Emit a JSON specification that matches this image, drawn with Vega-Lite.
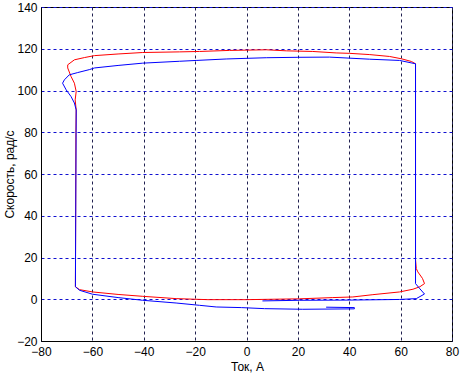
{
  "$schema": "https://vega.github.io/schema/vega-lite/v6.json",
  "width": 411,
  "height": 334,
  "autosize": {"type": "none"},
  "padding": {"left": 41, "top": 7, "right": 8, "bottom": 34},
  "background": "white",
  "config": {
    "view": {"stroke": "black", "strokeWidth": 1},
    "font": "Liberation Sans"
  },
  "data": {
    "values": [
      {"s":"red","i":0,"x":0,"y":-0.2},
      {"s":"red","i":1,"x":10,"y":0},
      {"s":"red","i":2,"x":20.6,"y":0.2},
      {"s":"red","i":3,"x":33.6,"y":0.8},
      {"s":"red","i":4,"x":41.4,"y":1.1},
      {"s":"red","i":5,"x":49.2,"y":2.2},
      {"s":"red","i":6,"x":59.6,"y":3.5},
      {"s":"red","i":7,"x":64.8,"y":4.8},
      {"s":"red","i":8,"x":67.5,"y":6},
      {"s":"red","i":9,"x":69.3,"y":7.5},
      {"s":"red","i":10,"x":68.5,"y":10},
      {"s":"red","i":11,"x":66.7,"y":13.1},
      {"s":"red","i":12,"x":66.1,"y":14.7},
      {"s":"red","i":13,"x":65.8,"y":19},
      {"s":"red","i":14,"x":65.8,"y":112.8},
      {"s":"red","i":15,"x":64.2,"y":113.9},
      {"s":"red","i":16,"x":60.3,"y":115.2},
      {"s":"red","i":17,"x":55.7,"y":116.3},
      {"s":"red","i":18,"x":48,"y":117.2},
      {"s":"red","i":19,"x":40.1,"y":117.8},
      {"s":"red","i":20,"x":34.9,"y":118},
      {"s":"red","i":21,"x":25.8,"y":118.7},
      {"s":"red","i":22,"x":15.5,"y":119},
      {"s":"red","i":23,"x":7.7,"y":119.5},
      {"s":"red","i":24,"x":-6.6,"y":119.2},
      {"s":"red","i":25,"x":-18.3,"y":118.7},
      {"s":"red","i":26,"x":-26,"y":118.5},
      {"s":"red","i":27,"x":-40.4,"y":118.2},
      {"s":"red","i":28,"x":-50,"y":117.5},
      {"s":"red","i":29,"x":-59.2,"y":116.7},
      {"s":"red","i":30,"x":-63,"y":115.8},
      {"s":"red","i":31,"x":-67,"y":114.7},
      {"s":"red","i":32,"x":-69.6,"y":112.3},
      {"s":"red","i":33,"x":-69.6,"y":110.8},
      {"s":"red","i":34,"x":-68.3,"y":106.7},
      {"s":"red","i":35,"x":-67,"y":103.5},
      {"s":"red","i":36,"x":-66.3,"y":99.5},
      {"s":"red","i":37,"x":-66.7,"y":95.5},
      {"s":"red","i":38,"x":-66.3,"y":90.7},
      {"s":"red","i":39,"x":-66.4,"y":80},
      {"s":"red","i":40,"x":-66.6,"y":6},
      {"s":"red","i":41,"x":-65,"y":4.6},
      {"s":"red","i":42,"x":-59.9,"y":3.5},
      {"s":"red","i":43,"x":-50,"y":2.3},
      {"s":"red","i":44,"x":-40.4,"y":1.4},
      {"s":"red","i":45,"x":-27.4,"y":0.3},
      {"s":"red","i":46,"x":-15,"y":-0.2},
      {"s":"red","i":47,"x":0,"y":-0.2},
      {"s":"blue","i":0,"x":6.2,"y":-0.8},
      {"s":"blue","i":1,"x":20.6,"y":-0.5},
      {"s":"blue","i":2,"x":40,"y":-0.4},
      {"s":"blue","i":3,"x":59.6,"y":-0.1},
      {"s":"blue","i":4,"x":66.1,"y":0.3},
      {"s":"blue","i":5,"x":69.3,"y":2.5},
      {"s":"blue","i":6,"x":67.5,"y":5},
      {"s":"blue","i":7,"x":65.8,"y":7.5},
      {"s":"blue","i":8,"x":65.8,"y":112.8},
      {"s":"blue","i":9,"x":59.6,"y":114.4},
      {"s":"blue","i":10,"x":47.9,"y":115},
      {"s":"blue","i":11,"x":32.3,"y":116},
      {"s":"blue","i":12,"x":20,"y":115.9},
      {"s":"blue","i":13,"x":7.7,"y":115.7},
      {"s":"blue","i":14,"x":-7.9,"y":115.1},
      {"s":"blue","i":15,"x":-19.6,"y":114.4},
      {"s":"blue","i":16,"x":-26.1,"y":114},
      {"s":"blue","i":17,"x":-40.4,"y":113.1},
      {"s":"blue","i":18,"x":-50,"y":112},
      {"s":"blue","i":19,"x":-59.2,"y":110.8},
      {"s":"blue","i":20,"x":-61.2,"y":110},
      {"s":"blue","i":21,"x":-65.7,"y":108.6},
      {"s":"blue","i":22,"x":-69,"y":107.5},
      {"s":"blue","i":23,"x":-70.9,"y":105.1},
      {"s":"blue","i":24,"x":-71.6,"y":103.5},
      {"s":"blue","i":25,"x":-70.2,"y":100.3},
      {"s":"blue","i":26,"x":-68.3,"y":97.1},
      {"s":"blue","i":27,"x":-67,"y":94},
      {"s":"blue","i":28,"x":-66.3,"y":90.7},
      {"s":"blue","i":29,"x":-66.6,"y":6},
      {"s":"blue","i":30,"x":-65,"y":4.3},
      {"s":"blue","i":31,"x":-59.9,"y":2.4},
      {"s":"blue","i":32,"x":-50,"y":0.8},
      {"s":"blue","i":33,"x":-40.4,"y":-0.5},
      {"s":"blue","i":34,"x":-27.4,"y":-1.8},
      {"s":"blue","i":35,"x":-18.3,"y":-2.9},
      {"s":"blue","i":36,"x":-11.8,"y":-3.7},
      {"s":"blue","i":37,"x":-2,"y":-4},
      {"s":"blue","i":38,"x":7,"y":-4.5},
      {"s":"blue","i":39,"x":21.9,"y":-4.8},
      {"s":"blue","i":40,"x":42,"y":-4.6},
      {"s":"blue","i":41,"x":42,"y":-4},
      {"s":"blue","i":42,"x":31,"y":-3.8}
    ]
  },
  "mark": {"type": "line", "strokeWidth": 1, "interpolate": "linear"},
  "encoding": {
    "x": {
      "field": "x", "type": "quantitative",
      "scale": {"domain": [-80, 80], "nice": false, "zero": false},
      "axis": {
        "values": [-80, -60, -40, -20, 0, 20, 40, 60, 80],
        "title": "Ток, А",
        "titleFont": "Liberation Sans", "titleFontSize": 12, "titleFontWeight": "normal", "titleColor": "#000",
        "titleX": 206, "titleY": 25, "titleBaseline": "middle", "titleAlign": "center",
        "labelFont": "Liberation Sans", "labelFontSize": 12, "labelColor": "#000",
        "labelFlush": false, "labelOverlap": false, "labelPadding": 5,
        "ticks": false, "domain": true, "domainColor": "#000",
        "grid": true, "gridColor": "#202050", "gridDash": [3, 3], "gridOpacity": 1, "gridWidth": 1
      }
    },
    "y": {
      "field": "y", "type": "quantitative",
      "scale": {"domain": [-20, 140], "nice": false, "zero": false},
      "axis": {
        "values": [-20, 0, 20, 40, 60, 80, 100, 120, 140],
        "title": "Скорость, рад/с",
        "titleFont": "Liberation Sans", "titleFontSize": 12, "titleFontWeight": "normal", "titleColor": "#000",
        "titleAngle": -90, "titleX": -32, "titleY": 167, "titleBaseline": "middle", "titleAlign": "center",
        "labelFont": "Liberation Sans", "labelFontSize": 12, "labelColor": "#000",
        "labelFlush": false, "labelOverlap": false, "labelPadding": 4,
        "ticks": false, "domain": true, "domainColor": "#000",
        "grid": true, "gridColor": "#1010d0", "gridDash": [3, 3], "gridOpacity": 1, "gridWidth": 1
      }
    },
    "color": {
      "field": "s", "type": "nominal",
      "scale": {"domain": ["red", "blue"], "range": ["#ff0000", "#0000ff"]},
      "legend": null
    },
    "order": {"field": "i", "type": "quantitative"}
  }
}
